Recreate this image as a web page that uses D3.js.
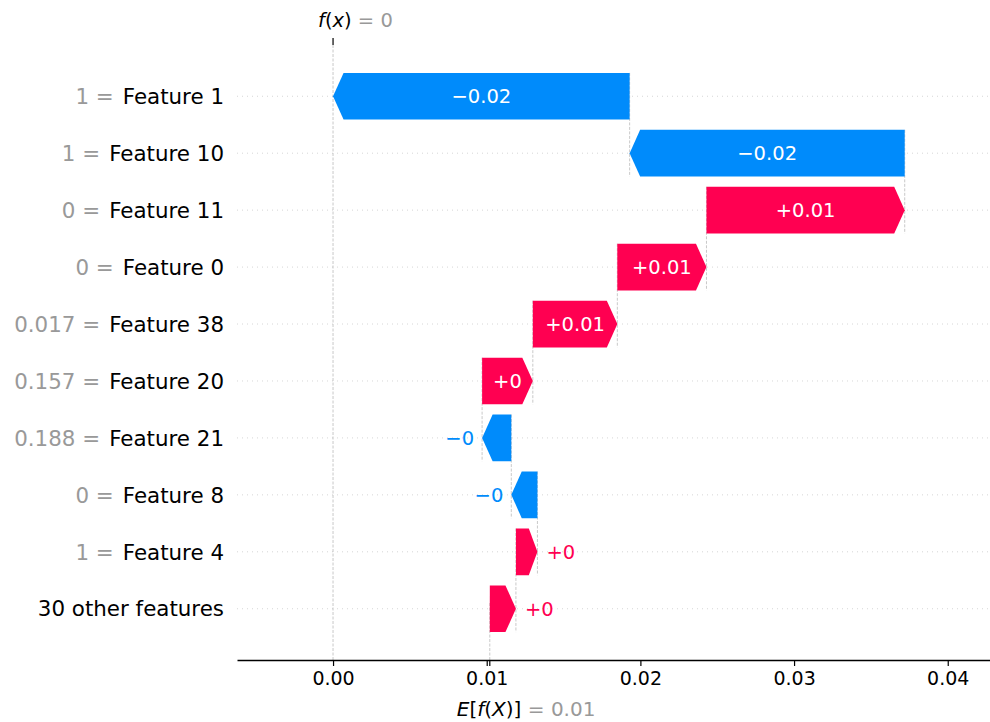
<!DOCTYPE html>
<html>
<head>
<meta charset="utf-8">
<script src="https://cdn.jsdelivr.net/npm/d3@7"></script>
<style>
  body { margin: 0; background: #fff; }
  text { font-family: "DejaVu Sans", sans-serif; }
</style>
</head>
<body>
<svg id="chart"></svg>
<script>
// rows top to bottom
var features = ["Feature 1", "Feature 10", "Feature 11", "Feature 0", "Feature 38",
                "Feature 20", "Feature 21", "Feature 8", "Feature 4", "30 other features"];
var featureValues = ["1", "1", "0", "0", "0.017", "0.157", "0.188", "0", "1", null];
var shapValues = [-0.0193, -0.0179, 0.0129, 0.0058, 0.0055, 0.0033, -0.0019, -0.0017, 0.0014, 0.0017];
var baseValue = 0.0102;
var xTicks = [0.00, 0.01, 0.02, 0.03, 0.04];

var dimensions = {
    width: 990,
    height: 722,
    margin: { top: 45, bottom: 62, left: 237, right: 0 }
};

var red = "#ff0051", blue = "#008bfb";

var svg = d3.select("#chart")
            .attr("width", dimensions.width)
            .attr("height", dimensions.height);

var xScale = d3.scaleLinear()
                .domain([-0.00625, 0.04275])
                .range([dimensions.margin.left, dimensions.width - dimensions.margin.right]);

var yScale = d3.scaleLinear()
                .domain([-0.9, features.length - 0.1])
                .range([dimensions.margin.top, dimensions.height - dimensions.margin.bottom]);

var rowH = yScale(1) - yScale(0);
var barH = rowH * 0.82;
var axisY = dimensions.height - dimensions.margin.bottom;

// cumulative positions, built from bottom row upward
var starts = new Array(features.length), ends = new Array(features.length);
var loc = baseValue;
for (var i = features.length - 1; i >= 0; i--) {
    starts[i] = loc;
    loc += shapValues[i];
    ends[i] = loc;
}
var fx = loc;

function strip(s) {
    if (s.indexOf(".") >= 0) s = s.replace(/0+$/, "").replace(/\.$/, "");
    return s;
}
var fmtBar = function (v) { return strip(d3.format("+.2f")(v)); };
var fmt3 = function (v) { return strip(d3.format(".3f")(v)); };

// horizontal dotted gridlines
svg.append("g").selectAll("line")
    .data(features)
    .enter().append("line")
    .attr("x1", xScale.range()[0])
    .attr("x2", xScale.range()[1])
    .attr("y1", function (d, i) { return yScale(i); })
    .attr("y2", function (d, i) { return yScale(i); })
    .attr("stroke", "#cccccc")
    .attr("stroke-width", 0.8)
    .attr("stroke-dasharray", "1,4");

var dash = svg.append("g")
    .attr("stroke", "#bbbbbb")
    .attr("stroke-width", 0.8)
    .attr("stroke-dasharray", "3,1.5");

// f(x) line full height
dash.append("line")
    .attr("x1", xScale(fx)).attr("x2", xScale(fx))
    .attr("y1", dimensions.margin.top).attr("y2", axisY);

// base value line over bottom row
dash.append("line")
    .attr("x1", xScale(baseValue)).attr("x2", xScale(baseValue))
    .attr("y1", axisY - rowH * 1.0).attr("y2", axisY);

// connectors between consecutive bars
for (var i = 0; i < features.length - 1; i++) {
    dash.append("line")
        .attr("x1", xScale(starts[i])).attr("x2", xScale(starts[i]))
        .attr("y1", yScale(i) - barH / 2)
        .attr("y2", yScale(i + 1) + barH / 2);
}

// bars as arrows
function arrowPath(i) {
    var x0 = xScale(starts[i]), x1 = xScale(ends[i]);
    var y = yScale(i), h = barH / 2;
    var w = Math.abs(x1 - x0);
    var head = Math.min(10.5, w * 0.4);
    var dir = x1 > x0 ? 1 : -1;
    var xn = x1 - dir * head;
    return "M" + x0 + "," + (y - h) +
           "L" + xn + "," + (y - h) +
           "L" + x1 + "," + y +
           "L" + xn + "," + (y + h) +
           "L" + x0 + "," + (y + h) + "Z";
}

svg.append("g").selectAll("path")
    .data(features)
    .enter().append("path")
    .attr("d", function (d, i) { return arrowPath(i); })
    .attr("fill", function (d, i) { return shapValues[i] > 0 ? red : blue; });

// bar labels
var labels = svg.append("g").selectAll("text")
    .data(features)
    .enter().append("text")
    .attr("font-size", "19.5px")
    .attr("dy", "0.36em")
    .text(function (d, i) { return fmtBar(shapValues[i]); });

labels.each(function (d, i) {
    var t = d3.select(this);
    var x0 = xScale(starts[i]), x1 = xScale(ends[i]);
    var w = Math.abs(x1 - x0);
    var tw = this.getComputedTextLength();
    var col = shapValues[i] > 0 ? red : blue;
    t.attr("y", yScale(i));
    if (tw + 4 < w - 10) {
        t.attr("x", (x0 + x1) / 2).attr("text-anchor", "middle").attr("fill", "#fff");
    } else if (shapValues[i] > 0) {
        t.attr("x", x1 + 9).attr("text-anchor", "start").attr("fill", col);
    } else {
        t.attr("x", x1 - 8).attr("text-anchor", "end").attr("fill", col);
    }
});

// y labels
var ylab = svg.append("g").selectAll("text")
    .data(features)
    .enter().append("text")
    .attr("x", dimensions.margin.left - 13)
    .attr("y", function (d, i) { return yScale(i); })
    .attr("dy", "0.36em")
    .attr("text-anchor", "end")
    .attr("font-size", "21.4px");

ylab.each(function (d, i) {
    var t = d3.select(this);
    if (featureValues[i] !== null) {
        t.append("tspan").attr("fill", "#999999").text(featureValues[i] + " =");
        t.append("tspan").attr("fill", "#000").attr("dx", 9).text(d);
    } else {
        t.append("tspan").attr("fill", "#000").text(d);
    }
});

// bottom axis
var xAxis = svg.append("g")
    .attr("transform", "translate(0," + axisY + ")")
    .call(d3.axisBottom(xScale).tickValues(xTicks).tickFormat(d3.format(".2f")).tickSize(6).tickPadding(6).tickSizeOuter(0));
xAxis.select(".domain").attr("stroke-width", 1.3);
xAxis.selectAll(".tick line").attr("stroke-width", 1.2);
xAxis.selectAll(".tick text")
    .attr("font-family", "DejaVu Sans")
    .attr("font-size", "19px")
    .attr("fill", "#000");

// base value tick
svg.append("line")
    .attr("x1", xScale(baseValue)).attr("x2", xScale(baseValue))
    .attr("y1", axisY).attr("y2", axisY + 6)
    .attr("stroke", "#000").attr("stroke-width", 1.2);

var eLab = svg.append("text")
    .attr("x", xScale(baseValue) - 33)
    .attr("y", axisY + 56)
    .attr("font-size", "20px");
eLab.append("tspan").attr("font-style", "italic").text("E");
eLab.append("tspan").text("[");
eLab.append("tspan").attr("font-style", "italic").text("f");
eLab.append("tspan").text("(");
eLab.append("tspan").attr("font-style", "italic").text("X");
eLab.append("tspan").text(")]");
eLab.append("tspan").attr("fill", "#999999").text(" = " + fmt3(baseValue));

// top f(x) tick
svg.append("line")
    .attr("x1", xScale(fx)).attr("x2", xScale(fx))
    .attr("y1", dimensions.margin.top).attr("y2", dimensions.margin.top - 7)
    .attr("stroke", "#000").attr("stroke-width", 1.2);

var fLab = svg.append("text")
    .attr("x", xScale(fx) - 15)
    .attr("y", 27)
    .attr("font-size", "19.5px");
fLab.append("tspan").attr("font-style", "italic").text("f");
fLab.append("tspan").text("(");
fLab.append("tspan").attr("font-style", "italic").text("x");
fLab.append("tspan").text(")");
fLab.append("tspan").attr("fill", "#999999").text(" = " + fmt3(fx));
</script>
</body>
</html>
